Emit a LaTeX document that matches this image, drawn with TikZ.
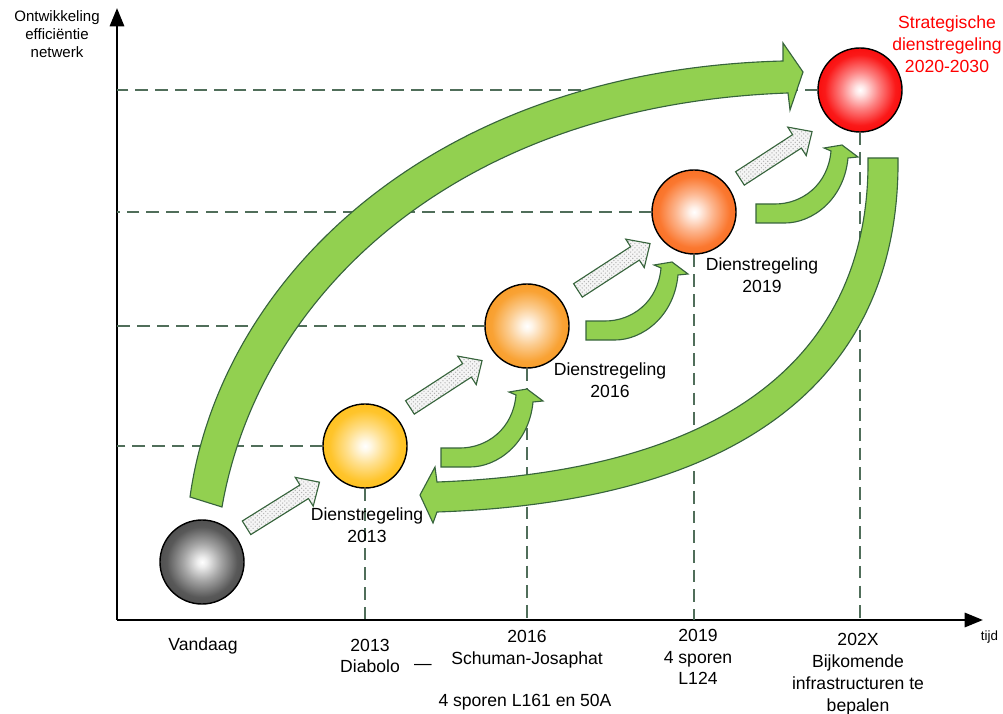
\documentclass[tikz,border=0pt]{standalone}
\usepackage{fontspec}
\setmainfont{Liberation Sans}
\usetikzlibrary{arrows.meta,patterns}

\definecolor{leaf}{RGB}{146,208,80}
\definecolor{leafline}{RGB}{55,100,60}
\definecolor{guidecol}{RGB}{80,110,90}
\definecolor{cgray}{RGB}{70,70,70}
\definecolor{cyellow}{RGB}{255,190,20}
\definecolor{clight}{RGB}{248,152,30}
\definecolor{corange}{RGB}{250,105,25}
\definecolor{cred}{RGB}{250,0,0}

% radial shadings for the balls
\newcommand{\ballshading}[2]{%
  \pgfdeclareradialshading{#1}{\pgfpoint{0bp}{0bp}}%
    {color(0bp)=(white); color(3bp)=(#2!10); color(11bp)=(#2!48); color(21bp)=(#2!90); color(30bp)=(#2); color(50bp)=(#2!85!black)}}
\ballshading{sgray}{cgray}
\ballshading{syellow}{cyellow}
\ballshading{slight}{clight}
\ballshading{sorange}{corange}
\ballshading{sred}{cred}

\tikzset{
  turnarrow/.pic={\path[leafarrow] (-86,78) -- (-57,78) .. controls (-30,78) and (2,55) .. (6,13) -- (16,12) -- (0,0) -- (-18,3) -- (-11,6) .. controls (-14,40) and (-40,59) .. (-67,59) -- (-86,59) -- cycle;},
  dotarrow/.pic={\path[hatcharrow] (-43,-8) -- (25,-8) -- (25,-17) -- (43,0) -- (25,17) -- (25,8) -- (-43,8) -- cycle;}
}

\begin{document}
\begin{tikzpicture}[x=0.025cm,y=-0.025cm,
    font=\fontsize{12.5}{15.5}\selectfont,
    guide/.style={draw=guidecol,line width=1pt,dash pattern=on 9pt off 5pt},
    axisline/.style={line width=2pt,-{Triangle[length=13pt,width=10pt]}},
    ball/.style={circle,draw=black,line width=1pt,minimum size=2.1cm,inner sep=0pt,shade,shading=#1},
    leafarrow/.style={fill=leaf,draw=leafline,line width=0.8pt,line join=miter},
    hatcharrow/.style={draw=leafline,line width=0.8pt,preaction={fill=gray!8},pattern=crosshatch dots,pattern color=gray!60},
    lbl/.style={align=center,text=black}]
  \useasboundingbox (0,0) rectangle (1003,714);

  % balls
  \node[ball=sgray] (now) at (202,562) {};
  \node[ball=syellow] (b13) at (365,446) {};
  \node[ball=slight] (b16) at (527,326) {};
  \node[ball=sorange] (b19) at (694,212) {};
  \node[ball=sred] (b20) at (860,90) {};

  % axes
  \coordinate (O) at (117,620);
  \coordinate (ytop) at (117,8);
  \coordinate (xend) at (983,620);
  \draw[axisline] (O) -- (ytop);
  \draw[axisline] (O) -- (xend);

  % guide lines to the axes
  \foreach \b in {b13,b16,b19,b20} {
    \draw[guide] (\b.west) -- (\b.west -| O);
    \draw[guide] (\b.south) -- (\b.south |- O);
  }

  % big green arrows
  \path[leafarrow] (190,497) .. controls (220,280) and (430,70) .. (783,61) -- (783,43) -- (803,72) -- (790,110) -- (788,93) .. controls (450,105) and (258,300) .. (222,507) -- cycle;
  \path[leafarrow] (898,158) .. controls (900,340) and (790,500) .. (437,512) -- (433,523) -- (420,495) -- (435,467) -- (437,482) .. controls (760,470) and (870,330) .. (868,158) -- cycle;

  % small green arrows
  \pic at (527,389) {turnarrow};
  \pic at (672,262) {turnarrow};
  \pic at (842,145) {turnarrow};

  % dotted arrows
  \pic[rotate=32] at (283,505) {dotarrow};
  \pic[rotate=33] at (446,384) {dotarrow};
  \pic[rotate=33] at (614,267) {dotarrow};
  \pic[rotate=33] at (776,155) {dotarrow};

  % labels
  \node[lbl,font=\fontsize{10.7}{12.6}\selectfont] (ylab) at (57,34) {Ontwikkeling\\efficiëntie\\netwerk};
  \node[lbl,text=red] (l20) at (947,44) {Strategische\\dienstregeling\\2020-2030};
  \node[lbl] (l13) at (367,525) {Dienstregeling\\2013};
  \node[lbl] (l16) at (610,380) {Dienstregeling\\2016};
  \node[lbl] (l19) at (762,275) {Dienstregeling\\2019};
  \node[lbl] (tnow) at (203,646) {Vandaag};
  \node[lbl] (t13) at (370,656) {2013\\Diabolo};
  \node[lbl] (tdash) at (423,667) {—};
  \node[lbl] (t16) at (527,649) {2016\\Schuman-Josaphat};
  \node[lbl] (t16b) at (525,702) {4 sporen L161 en 50A};
  \node[lbl] (t19) at (698,657) {2019\\4 sporen\\L124};
  \node[lbl] (t2x) at (858,674) {202X\\Bijkomende\\infrastructuren te\\bepalen};
  \node[lbl,anchor=east,font=\fontsize{9.5}{11}\selectfont] (tijd) at (1003,637) {tijd};
\end{tikzpicture}
\end{document}
